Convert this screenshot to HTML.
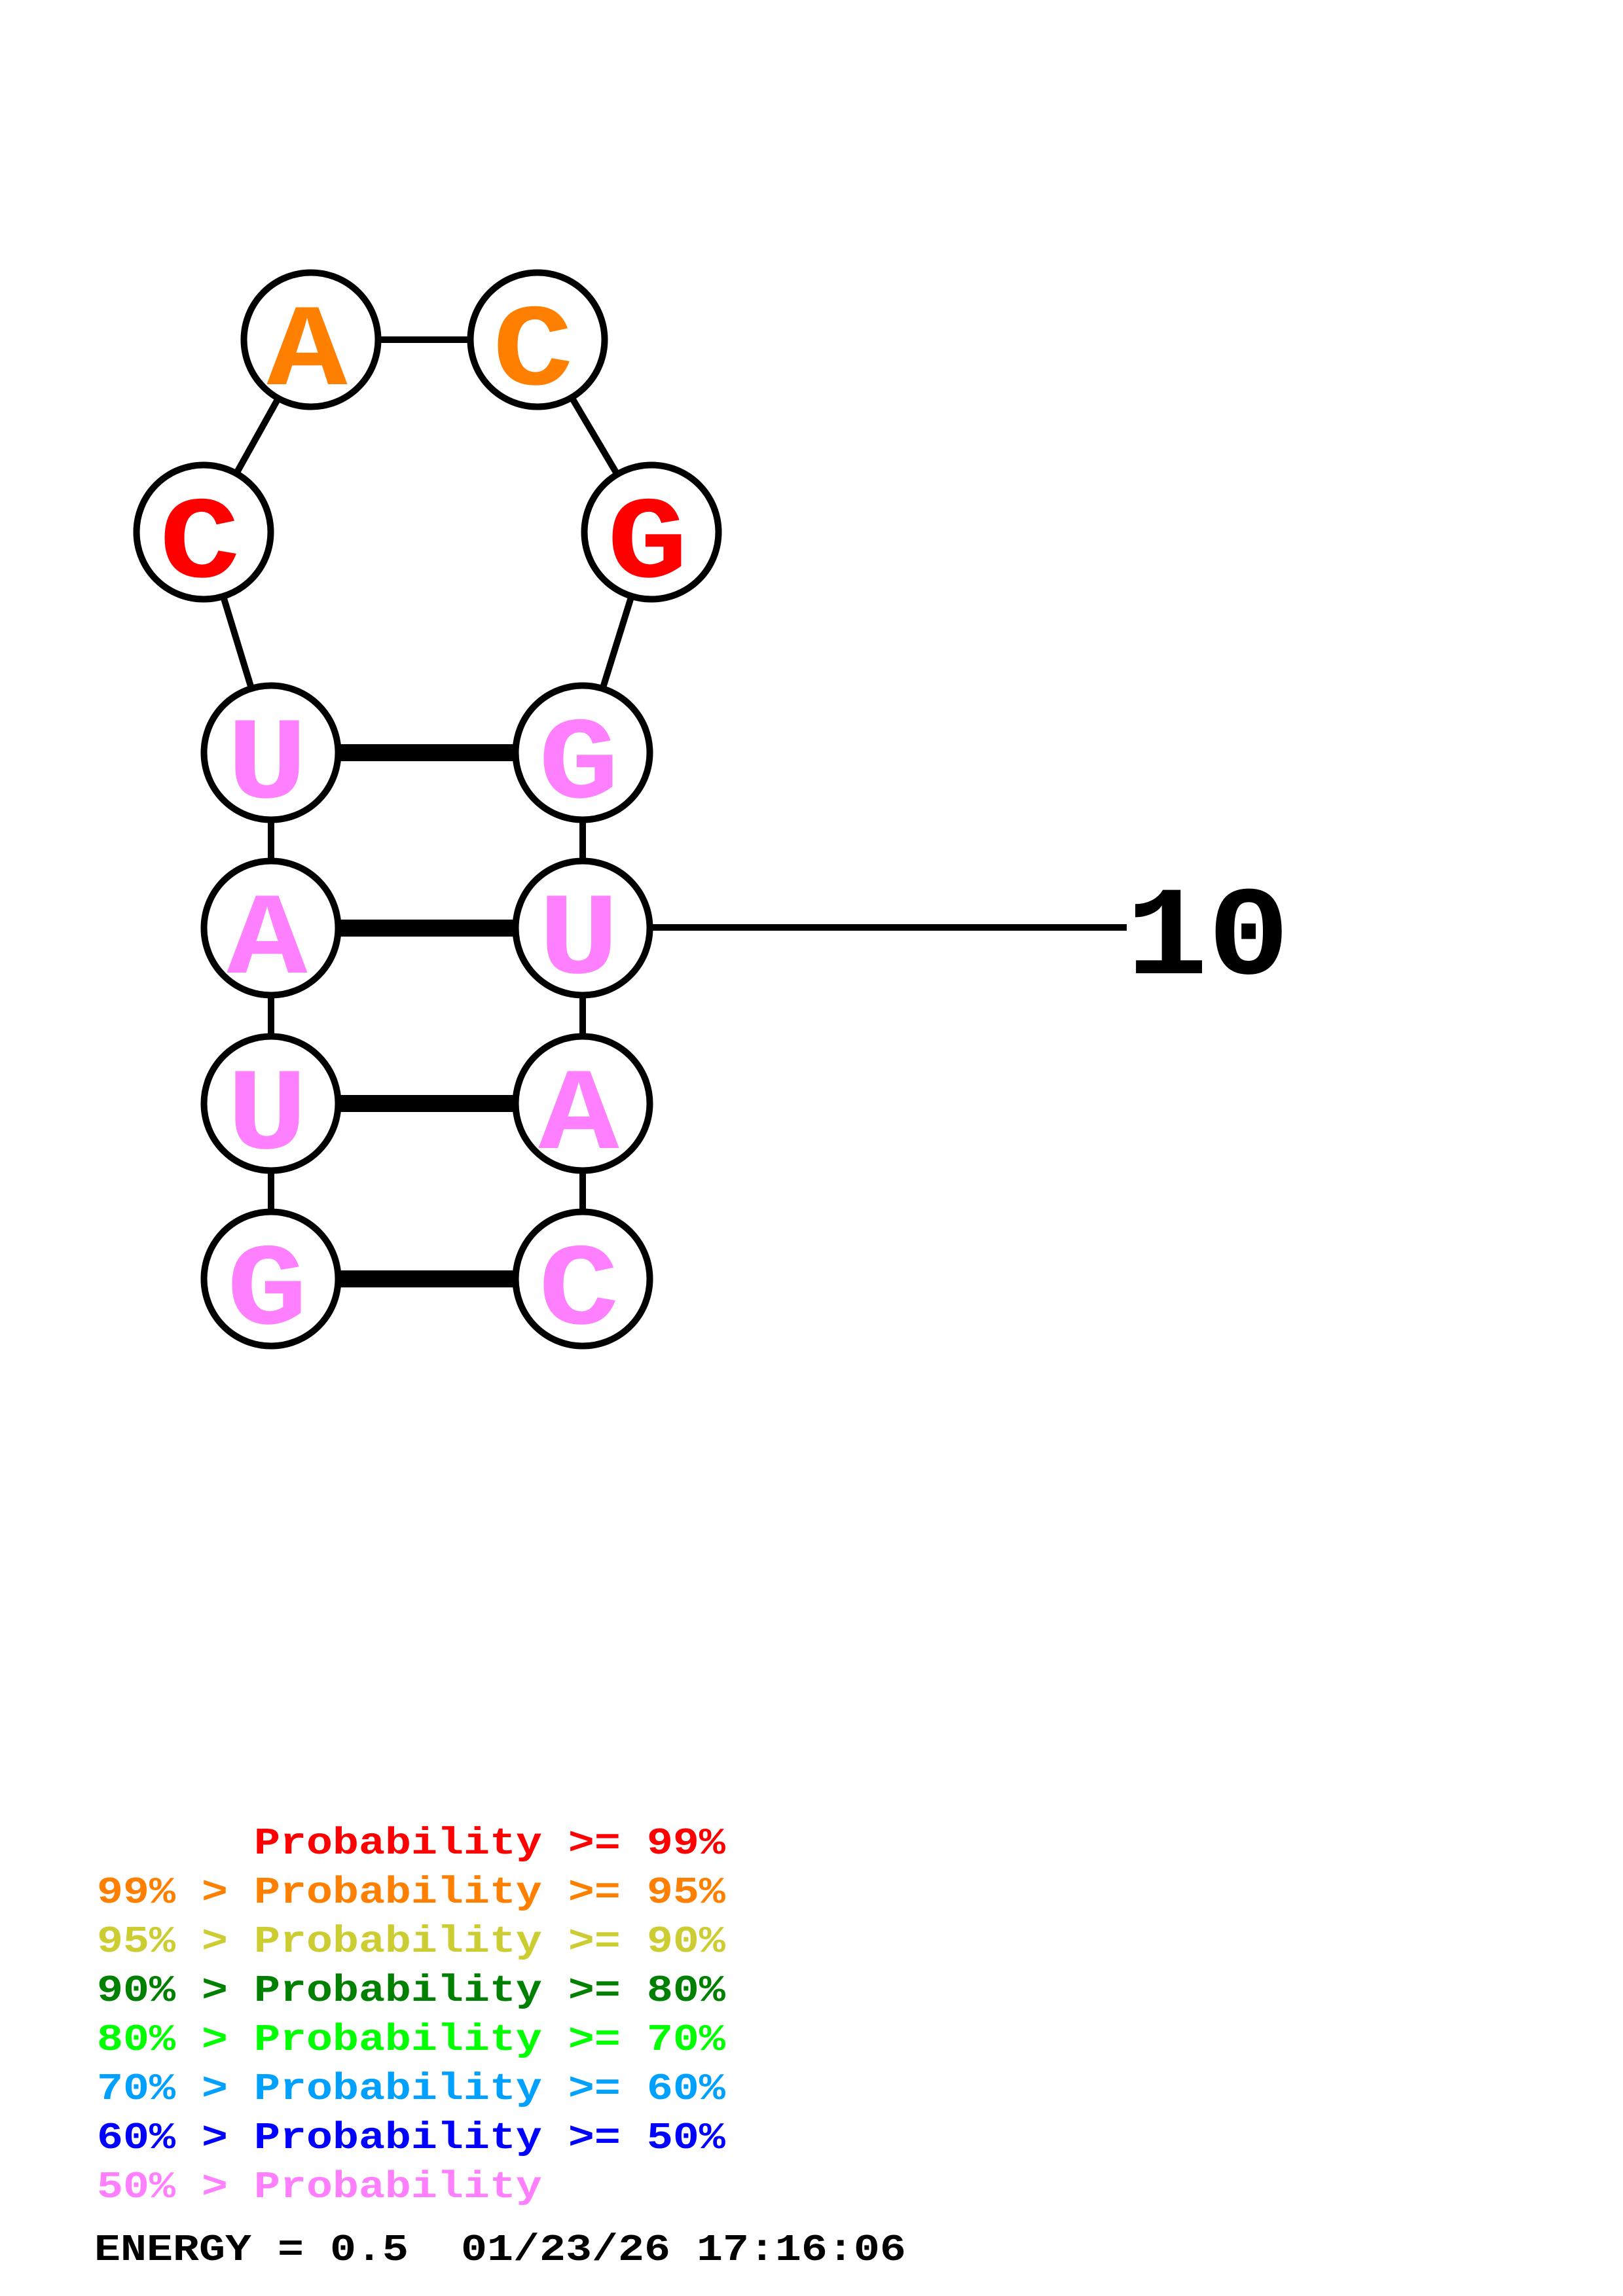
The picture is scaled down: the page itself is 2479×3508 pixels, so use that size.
<!DOCTYPE html>
<html>
<head>
<meta charset="utf-8">
<style>
  html, body { margin: 0; padding: 0; background: #ffffff; }
  svg { display: block; }
  .b { font-family: "Liberation Mono", "DejaVu Sans Mono", monospace; font-weight: bold; white-space: pre; }
</style>
</head>
<body>
<svg width="2479" height="3508" viewBox="0 0 2479 3508" xmlns="http://www.w3.org/2000/svg">
  <rect x="0" y="0" width="2479" height="3508" fill="#ffffff"/>

  <!-- backbone -->
  <polyline points="414,1954 414,1686 414,1418 414,1150 311,813 475,519 821,519 995,813 890,1150 890,1418 890,1686 890,1954"
            fill="none" stroke="#000" stroke-width="10" stroke-linejoin="round"/>

  <!-- base pairs -->
  <g stroke="#000" stroke-width="26">
    <line x1="414" y1="1150" x2="890" y2="1150"/>
    <line x1="414" y1="1418" x2="890" y2="1418"/>
    <line x1="414" y1="1686" x2="890" y2="1686"/>
    <line x1="414" y1="1954" x2="890" y2="1954"/>
  </g>

  <!-- label line -->
  <line x1="890" y1="1417" x2="1721" y2="1417" stroke="#000" stroke-width="10"/>

  <!-- nucleotide circles -->
  <g fill="#fff" stroke="#000" stroke-width="10">
    <circle cx="475" cy="519" r="102.5"/>
    <circle cx="821" cy="519" r="102.5"/>
    <circle cx="311" cy="813" r="102.5"/>
    <circle cx="995" cy="813" r="102.5"/>
    <circle cx="414" cy="1150" r="102.5"/>
    <circle cx="890" cy="1150" r="102.5"/>
    <circle cx="414" cy="1418" r="102.5"/>
    <circle cx="890" cy="1418" r="102.5"/>
    <circle cx="414" cy="1686" r="102.5"/>
    <circle cx="890" cy="1686" r="102.5"/>
    <circle cx="414" cy="1954" r="102.5"/>
    <circle cx="890" cy="1954" r="102.5"/>
  </g>

  <!-- nucleotide letters -->
  <g class="b" font-size="205" text-anchor="middle">
    <text transform="translate(469,587) scale(1,0.87)" fill="#FF8000">A</text>
    <text transform="translate(814,587) scale(1,0.87)" fill="#FF8000">C</text>
    <text transform="translate(305,881) scale(1,0.87)" fill="#FF0000">C</text>
    <text transform="translate(989,881) scale(1,0.87)" fill="#FF0000">G</text>
    <text transform="translate(408,1218) scale(1,0.87)" fill="#FF80FF">U</text>
    <text transform="translate(884,1218) scale(1,0.87)" fill="#FF80FF">G</text>
    <text transform="translate(408,1486) scale(1,0.87)" fill="#FF80FF">A</text>
    <text transform="translate(884,1486) scale(1,0.87)" fill="#FF80FF">U</text>
    <text transform="translate(408,1754) scale(1,0.87)" fill="#FF80FF">U</text>
    <text transform="translate(884,1754) scale(1,0.87)" fill="#FF80FF">A</text>
    <text transform="translate(408,2022) scale(1,0.87)" fill="#FF80FF">G</text>
    <text transform="translate(884,2022) scale(1,0.87)" fill="#FF80FF">C</text>
  </g>

  <!-- position label -->
  <text class="b" font-size="208" transform="translate(1720,1487) scale(1,0.93)" fill="#000">10</text>

  <!-- legend -->
  <g class="b" font-size="66.67">
    <text transform="translate(388,2832) scale(1,0.86)" fill="#FF0000">Probability &gt;= 99%</text>
    <text transform="translate(148,2907) scale(1,0.86)" fill="#FF8000">99% &gt; Probability &gt;= 95%</text>
    <text transform="translate(148,2982) scale(1,0.86)" fill="#CCCC33">95% &gt; Probability &gt;= 90%</text>
    <text transform="translate(148,3057) scale(1,0.86)" fill="#008000">90% &gt; Probability &gt;= 80%</text>
    <text transform="translate(148,3132) scale(1,0.86)" fill="#00FF00">80% &gt; Probability &gt;= 70%</text>
    <text transform="translate(148,3207) scale(1,0.86)" fill="#00A0FF">70% &gt; Probability &gt;= 60%</text>
    <text transform="translate(148,3282) scale(1,0.86)" fill="#0000FF">60% &gt; Probability &gt;= 50%</text>
    <text transform="translate(148,3357) scale(1,0.86)" fill="#FF80FF">50% &gt; Probability</text>
    <text transform="translate(144,3453) scale(1,0.86)" fill="#000000">ENERGY = 0.5</text>
    <text transform="translate(704,3453) scale(1,0.86)" fill="#000000">01/23/26 17:16:06</text>
  </g>
</svg>
</body>
</html>
